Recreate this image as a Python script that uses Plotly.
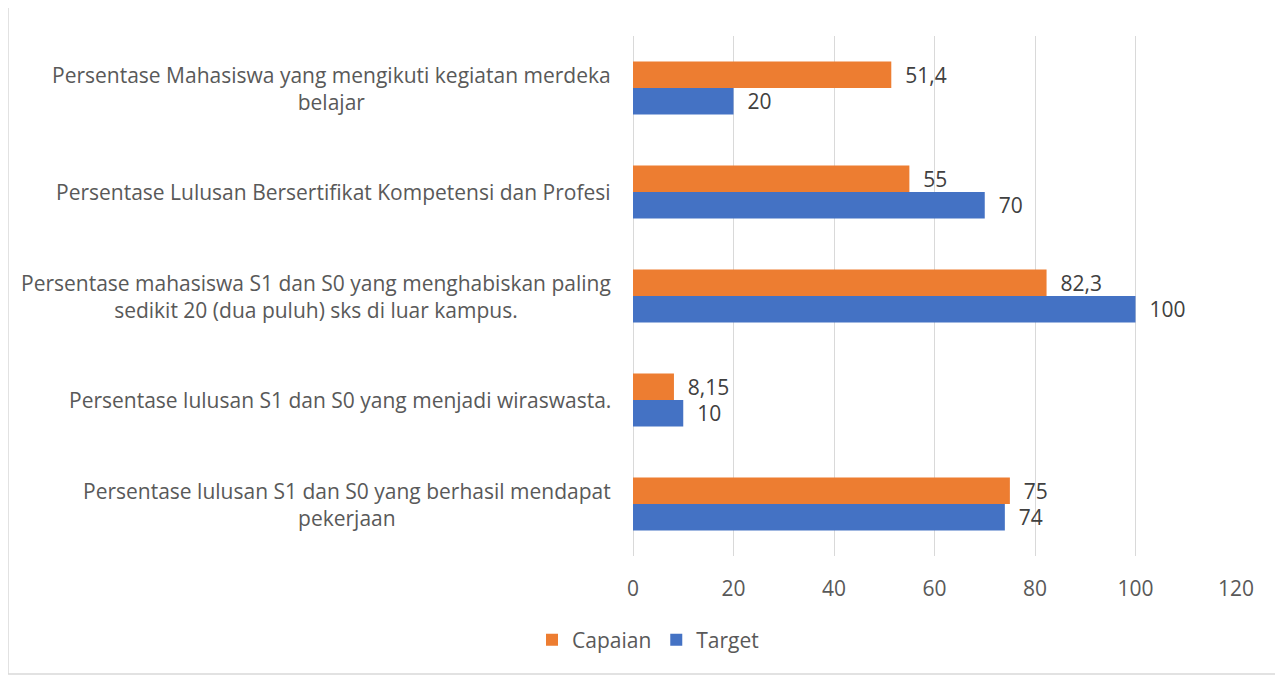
import plotly.graph_objects as go

# categories, bottom to top (as drawn)
categories = [
    "Persentase lulusan S1 dan S0 yang berhasil mendapat<br>pekerjaan",
    "Persentase lulusan S1 dan S0 yang menjadi wiraswasta.",
    "Persentase mahasiswa S1 dan S0 yang menghabiskan paling<br>sedikit 20 (dua puluh) sks di luar kampus.",
    "Persentase Lulusan Bersertifikat Kompetensi dan Profesi",
    "Persentase Mahasiswa yang mengikuti kegiatan merdeka<br>belajar",
]
target = [74, 10, 100, 70, 20]
capaian = [75, 8.15, 82.3, 55, 51.4]
x_ticks = [0, 20, 40, 60, 80, 100, 120]

color_target = '#4472C4'
color_capaian = '#ED7D31'
font_family = 'Open Sans, sans-serif'
label_color = '#595959'
fsize = 21

# page has an 8px body margin, so the figure starts at (8, 8)
OFF = 8
W, H = 1283 - OFF, 675 - OFF
ml, mr, mt, mb = 633 - OFF, 47, 36 - OFF, 119


def fmt(v):
    # small gap before the value, decimal comma
    return '\u00a0\u00a0' + ('%g' % v).replace('.', ',')


fig = go.Figure()
fig.add_trace(go.Bar(
    name='Target', y=list(range(len(categories))), x=target, orientation='h',
    marker=dict(color=color_target, line=dict(width=0)),
    text=[fmt(v) for v in target], textposition='outside', cliponaxis=False,
    constraintext='none',
    textfont=dict(size=fsize, color='#404040', family=font_family),
    legendrank=2,
))
fig.add_trace(go.Bar(
    name='Capaian', y=list(range(len(categories))), x=capaian, orientation='h',
    marker=dict(color=color_capaian, line=dict(width=0)),
    text=[fmt(v) for v in capaian], textposition='outside', cliponaxis=False,
    constraintext='none',
    textfont=dict(size=fsize, color='#404040', family=font_family),
    legendrank=1,
))

# category labels, centred like the original
for i, c in enumerate(categories):
    fig.add_annotation(
        x=0, xref='paper', y=i, yref='y', text=c, showarrow=False,
        xanchor='right', yanchor='middle', align='center', xshift=-20,
        font=dict(size=21, color=label_color, family=font_family),
    )

# outer chart border
pw = W - ml - mr
ph = H - mt - mb
fig.add_shape(
    type='rect', xref='paper', yref='paper',
    x0=(8 - OFF - ml) / pw, x1=(W - 2 - ml) / pw,
    y0=-(H - 1 - mt - ph) / ph, y1=1 + (mt - (6 - OFF)) / ph,
    line=dict(color='#d9d9d9', width=1.5), layer='below',
)

fig.update_layout(
    width=W, height=H,
    margin=dict(l=ml, r=mr, t=mt, b=mb),
    barmode='group', bargap=0.49, bargroupgap=0,
    plot_bgcolor='white', paper_bgcolor='white',
    font=dict(family=font_family, size=fsize, color=label_color),
    showlegend=True,
    legend=dict(
        orientation='h', x=(648 - OFF - ml) / pw, xanchor='center',
        y=-(640 - OFF - mt - ph) / ph, yanchor='middle',
        font=dict(size=fsize, color=label_color, family=font_family),
        itemwidth=30,
    ),
    xaxis=dict(
        range=[0, 120], tickvals=x_ticks, showgrid=True,
        gridcolor='#d9d9d9', gridwidth=1, zeroline=True,
        zerolinecolor='#d9d9d9', zerolinewidth=1,
        showline=False, ticks='outside', ticklen=14, tickcolor='rgba(0,0,0,0)',
        tickfont=dict(size=fsize, color=label_color, family=font_family),
    ),
    yaxis=dict(
        range=[-0.5, len(categories) - 0.5], showticklabels=False,
        showgrid=False, zeroline=False, showline=False,
    ),
)

fig.write_html("out.html")
